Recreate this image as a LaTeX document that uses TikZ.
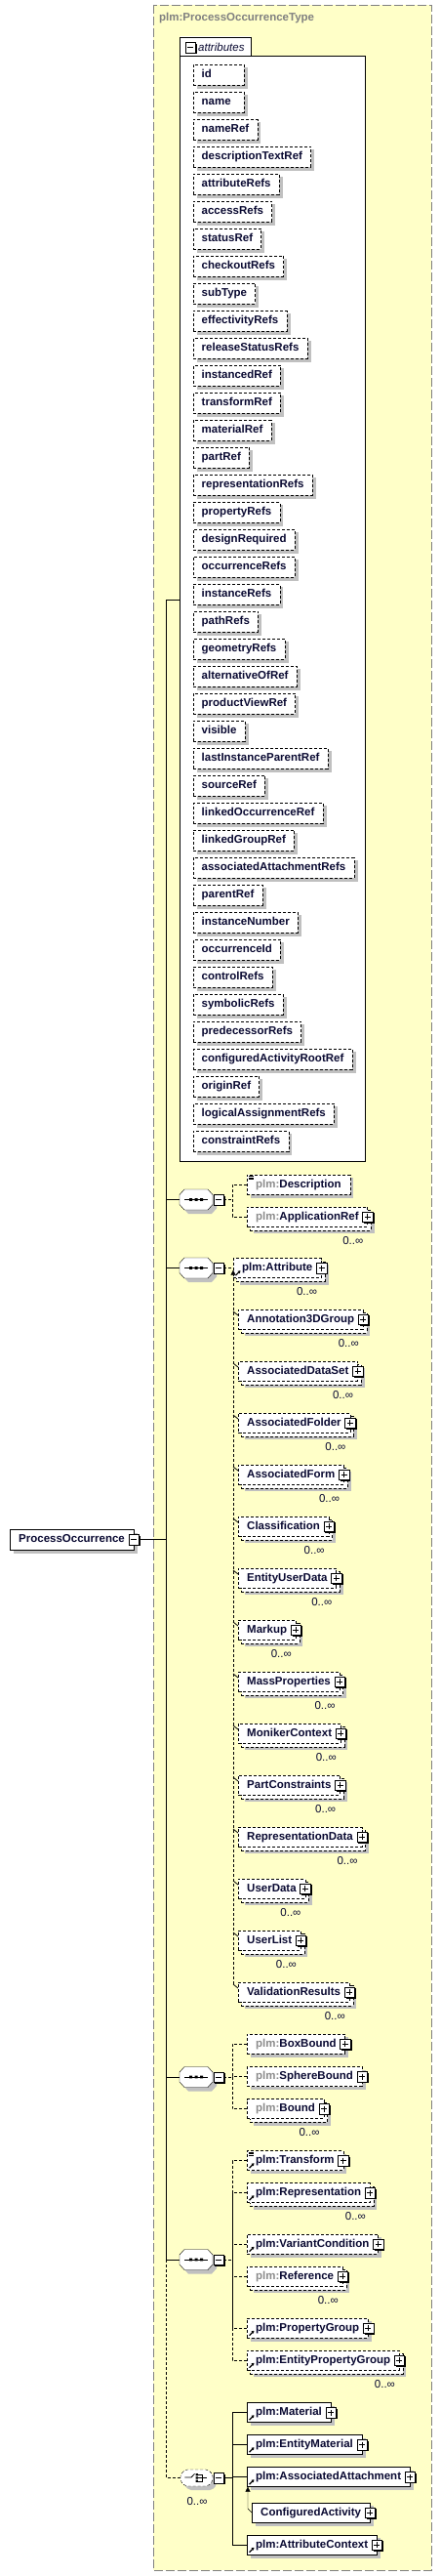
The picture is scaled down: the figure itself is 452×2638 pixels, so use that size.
\documentclass[tikz,border=0pt]{standalone}
\usepackage{fontspec}
\setmainfont{Liberation Sans}
\usetikzlibrary{arrows.meta,calc}
\definecolor{yel}{HTML}{FFFFC8}
\definecolor{bordergray}{HTML}{808080}
\definecolor{shadowgray}{HTML}{C0C0C0}
\definecolor{ink}{HTML}{0A0A32}
\definecolor{pregray}{HTML}{8C8C8C}
\pgfdeclarelayer{ylayer}
\pgfdeclarelayer{shade}
\pgfdeclarelayer{back}
\pgfsetlayers{ylayer,shade,back,main}

\newcommand\pre{{\color{pregray}plm:}}
\newcommand\efont{\fontsize{11.5}{13}\selectfont\bfseries}
\newcommand\mfont{\fontsize{11.5}{13}\selectfont}
\newcommand\atext[1]{\sbox0{#1}\ifdim\wd0<35pt\makebox[35pt][l]{#1}\else#1\fi}

\tikzset{
 dsh/.style={dash pattern=on 3pt off 2pt},
 elem/.style={draw=black, fill=white, font=\efont, text=ink, inner xsep=9pt, inner ysep=0pt,
   minimum height=20pt, text height=8.5pt, text depth=2.5pt, anchor=west},
 attrbox/.style={elem, dsh, minimum height=21pt, inner xsep=8.5pt},
 mult/.style={font=\mfont, text=ink, inner sep=0pt},
 pmbox/.style={draw=black, fill=white, minimum size=10.5pt, inner sep=0pt},
}

\newcommand\SH[2]{\begin{pgfonlayer}{shade}\fill[shadowgray] ([shift={(#2,#2)}]#1.north west) rectangle ([shift={(#2,#2)}]#1.south east);\end{pgfonlayer}}
\newcommand\BK[1]{\begin{pgfonlayer}{back}\draw[dsh,fill=white] ([shift={(3.5,3.5)}]#1.north west) rectangle ([shift={(3.5,3.5)}]#1.south east);\end{pgfonlayer}}
\newcommand\PMB[3]{\begin{scope}[shift={(#2)}]\fill[black] (-3.75,-3.75) rectangle (6.75,6.75);\node[pmbox] (#1) at (0,0) {};\draw[line width=0.9pt] (-3,0) -- (3,0);\ifnum#3=1 \draw[line width=0.9pt] (0,-3) -- (0,3);\fi\end{scope}}
\newcommand\ARW[1]{\draw[line width=1.1pt,-{Triangle[length=2.6pt,width=3.2pt]}] ([shift={(2.5,-2.5)}]#1.south west) -- ([shift={(7.5,-7.5)}]#1.south west);}
\newcommand\LST[1]{\draw[line width=0.6pt] ([shift={(2,1.5)}]#1.north west) -- ++(5,0) ([shift={(2,3)}]#1.north west) -- ++(5,0) ([shift={(2,4.5)}]#1.north west) -- ++(5,0);}
\newcommand\EL[7]{\node[elem,#5] (#1) at (#2,#3) {#4\hspace{3pt}};\ifnum#6=1 \SH{#1}{7}\BK{#1}\node[mult] at ([shift={(-15,14)}]#1.south east) {0..∞};\else\SH{#1}{3.5}\fi\ifnum#7=1 \ARW{#1}\fi\PMB{#1-p}{#1.east}{1}}
\newcommand\octpath{(-17,-5) -- (-12,-10.5) -- (12,-10.5) -- (17,-5) -- (17,5) -- (12,10.5) -- (-12,10.5) -- (-17,5) -- cycle}
\newcommand\SEQ[2]{\begin{scope}[shift={(201,#2)}]
 \begin{pgfonlayer}{shade}\fill[shadowgray,shift={(4,4)}] \octpath;\end{pgfonlayer}
 \draw[fill=white] \octpath;
 \draw[line width=0.8pt] (-12,0) -- (12,0);
 \fill (-7,-1.3) rectangle (-4,1.3) (-1.5,-1.3) rectangle (1.5,1.3) (4,-1.3) rectangle (7,1.3);
 \coordinate (#1-w) at (-17,0);
 \coordinate (#1-j) at (37,0);
 \PMB{#1-m}{23,0}{0}
 \end{scope}}

\begin{document}
\begin{tikzpicture}[x=1pt,y=-1pt,line width=1pt]
\useasboundingbox (0,0) rectangle (452,2638);

% type container
\begin{pgfonlayer}{ylayer}
\draw[draw=bordergray, fill=yel, dash pattern=on 9pt off 3pt] (157,5) rectangle (442,2632);
\node[draw=black, fill=white, anchor=north west, minimum width=190, minimum height=1132, inner sep=0] (attrs) at (184,57) {};
\fill[white] ([shift={(0.5,0.5)}]attrs.north west) rectangle ++(72,-20);
\draw (attrs.north west) -- ++(0,-19) -- ++(73,0) -- ++(0,19);
\end{pgfonlayer}
\node[anchor=west, font=\efont, text=bordergray, inner sep=0] (title) at (163,19) {plm:ProcessOccurrenceType};
\PMB{tabm}{195,48.5}{0}
\node[anchor=west, font=\mfont\itshape, text=ink, inner sep=0] (tabl) at (203,48) {attributes};

% attributes
\foreach \t [count=\i from 0] in {id,name,nameRef,descriptionTextRef,attributeRefs,accessRefs,statusRef,checkoutRefs,subType,effectivityRefs,releaseStatusRefs,instancedRef,transformRef,materialRef,partRef,representationRefs,propertyRefs,designRequired,occurrenceRefs,instanceRefs,pathRefs,geometryRefs,alternativeOfRef,productViewRef,visible,lastInstanceParentRef,sourceRef,linkedOccurrenceRef,linkedGroupRef,associatedAttachmentRefs,parentRef,instanceNumber,occurrenceId,controlRefs,symbolicRefs,predecessorRefs,configuredActivityRootRef,originRef,logicalAssignmentRefs,constraintRefs}{
  \node[attrbox] (a\i) at (198,76.5+28*\i) {\atext{\t}};
  \SH{a\i}{3.5}
}

% root
\node[elem, draw=black, minimum height=21pt] (po) at (10,1576.5) {ProcessOccurrence\hspace{4pt}};
\SH{po}{4}
\PMB{po-m}{po.east}{0}

% compositors
\SEQ{s1}{1228.5}
\SEQ{s2}{1298.5}
\SEQ{s3}{2127}
\SEQ{s4}{2314}

% choice
\begin{scope}[shift={(201.5,2537.5)}]
 \begin{pgfonlayer}{shade}\fill[shadowgray,shift={(4,4)},rounded corners=2pt] (-16.5,-3.5) -- (-11.5,-8.5) -- (11.5,-8.5) -- (16.5,-3.5) -- (16.5,3.5) -- (11.5,8.5) -- (-11.5,8.5) -- (-16.5,3.5) -- cycle;\end{pgfonlayer}
 \draw[dsh,fill=white,rounded corners=2pt] (-16.5,-3.5) -- (-11.5,-8.5) -- (11.5,-8.5) -- (16.5,-3.5) -- (16.5,3.5) -- (11.5,8.5) -- (-11.5,8.5) -- (-16.5,3.5) -- cycle;
 \draw[line width=0.8pt] (-12.2,-0.5) -- (-5.5,-0.5) -- (-2,-4.2);
 \fill (-0.8,-4.4) rectangle (1.4,-2.2) (-0.8,-1.1) rectangle (1.4,1.1) (-0.8,2.2) rectangle (1.4,4.4);
 \draw[line width=0.8pt] (1.4,-3.6) -- (5.8,-3.6) -- (5.8,3.6) -- (1.4,3.6) (1.4,0) -- (10,0);
 \coordinate (ch-w) at (-16.5,0);
 \coordinate (ch-j) at (36.5,0);
 \PMB{ch-m}{22.5,0}{0}
 \node[mult] (ch-mult) at (0.5,24.5) {0..∞};
\end{scope}

% sequence 1 children
\node[elem,dsh] (desc) at (253,1213) {\pre Description};
\SH{desc}{3.5}
\LST{desc}
\EL{appref}{253}{1246}{\pre ApplicationRef}{dsh}{1}{0}

% sequence 2: substitution group
\EL{attr}{239}{1298.5}{plm:Attribute}{dsh}{1}{1}
\foreach \t [count=\i from 0] in {Annotation3DGroup,AssociatedDataSet,AssociatedFolder,AssociatedForm,Classification,EntityUserData,Markup,MassProperties,MonikerContext,PartConstraints,RepresentationData,UserData,UserList,ValidationResults}{
  \EL{g\i}{244}{1351+53*\i}{\t}{dsh}{1}{0}
  \draw[line width=0.8pt] ([shift={(-5,-8)}]g\i.west) -- ([shift={(0,-4)}]g\i.west);
}
\draw[dsh,-{Triangle[length=5pt,width=5pt]}] ([shift={(-5,-8)}]g13.west) -- ([shift={(-5,-8)}]g13.west |- attr.south);

% sequence 3
\EL{bb}{253}{2093}{\pre BoxBound}{dsh}{0}{0}
\EL{sb}{253}{2126.5}{\pre SphereBound}{dsh}{0}{0}
\EL{bd}{253}{2159.5}{\pre Bound}{dsh}{1}{0}

% sequence 4
\EL{tr}{253}{2212.5}{plm:Transform}{dsh}{0}{1}
\LST{tr}
\EL{rep}{253}{2245.5}{plm:Representation}{dsh}{1}{1}
\EL{vc}{253}{2298}{plm:VariantCondition}{dsh}{0}{1}
\EL{ref}{253}{2331}{\pre Reference}{dsh}{1}{0}
\EL{pg}{253}{2384}{plm:PropertyGroup}{dsh}{0}{1}
\EL{epg}{253}{2417}{plm:EntityPropertyGroup}{dsh}{1}{1}

% choice children
\EL{mat}{253}{2470.5}{plm:Material}{}{0}{1}
\EL{emat}{253}{2503.5}{plm:EntityMaterial}{}{0}{1}
\EL{aa}{253}{2536.5}{plm:AssociatedAttachment}{}{0}{1}
\EL{ca}{258}{2573}{ConfiguredActivity}{}{0}{0}
\EL{ac}{253}{2606}{plm:AttributeContext}{}{0}{1}
\draw[-{Triangle[length=5pt,width=5pt]}] (ca.west) -- ++(-4,-4) -- ([xshift=-4pt]ca.west |- aa.south);

% spine
\coordinate (sp-top) at (170,614);
\draw (sp-top) -- (sp-top -| attrs.west);
\draw (sp-top) -- (s4-w -| sp-top);
\draw[dsh] (s4-w -| sp-top) -- (ch-w -| sp-top) -- (ch-w);
\draw (po-m.east) -- (po-m.east -| sp-top);
\foreach \s in {s1,s2,s3,s4}{\draw (\s-w -| sp-top) -- (\s-w);}

% compositor connectors
\draw[dsh] (s1-m.east) -- (s1-j);
\foreach \n in {desc,appref}{\draw[dsh] (\n.west) -| (s1-j);}
\draw[dsh] (s2-m.east) -- (attr.west);
\draw[dsh] (s3-m.east) -- (s3-j);
\foreach \n in {bb,sb,bd}{\draw[dsh] (\n.west) -| (s3-j);}
\draw[dsh] (s4-m.east) -- (s4-j);
\foreach \n in {tr,rep,vc,ref,pg,epg}{\draw[dsh] (\n.west) -| (s4-j);}
\draw (ch-m.east) -- (ch-j);
\foreach \n in {mat,emat,aa,ac}{\draw (\n.west) -| (ch-j);}
\end{tikzpicture}
\end{document}
